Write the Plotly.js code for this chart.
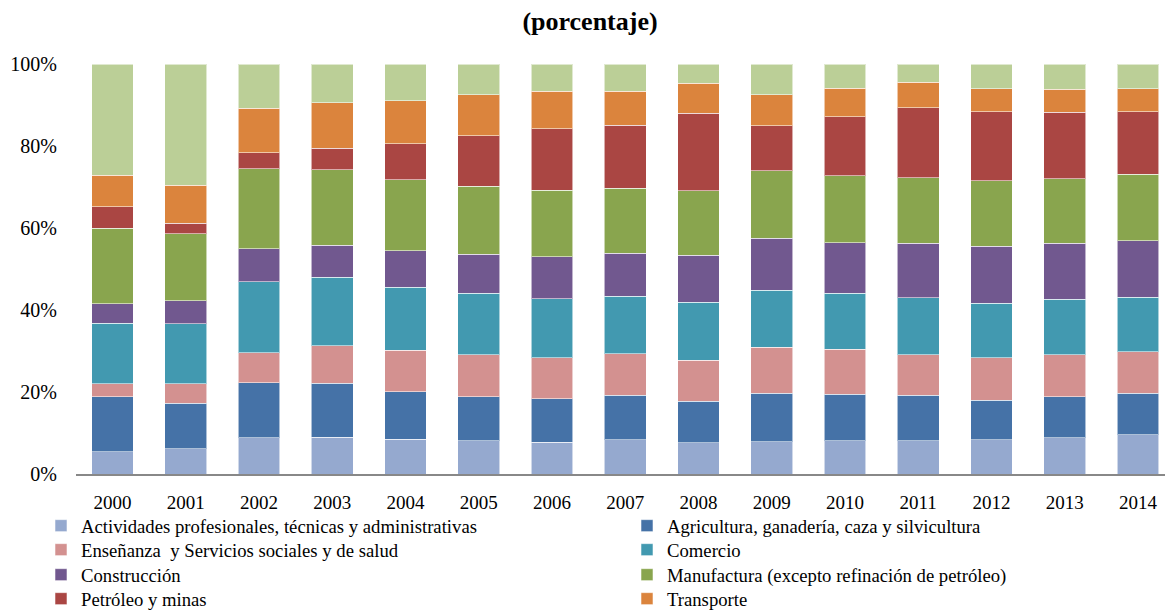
<!DOCTYPE html>
<html>
<head>
<meta charset="utf-8">
<script src="https://cdn.plot.ly/plotly-3.0.1.min.js"></script>
<style>html,body{margin:0;padding:0;background:#fff;}#chart{width:1165px;height:611px;}</style>
</head>
<body>
<div id="chart"></div>
<script>
var years = ['2000','2001','2002','2003','2004','2005','2006','2007','2008','2009','2010','2011','2012','2013','2014'];
var actividades = [5.4, 6.1, 8.9, 9.0, 8.5, 8.1, 7.8, 8.4, 7.6, 7.9, 8.1, 8.1, 8.4, 8.9, 9.6];
var agricultura = [13.5, 11.1, 13.4, 13.1, 11.6, 10.8, 10.6, 10.8, 10.1, 11.8, 11.3, 11.1, 9.6, 10.0, 10.1];
var ensenanza = [3.1, 4.8, 7.3, 9.2, 10.0, 10.2, 10.0, 10.2, 10.0, 11.2, 11.0, 9.9, 10.3, 10.2, 10.2];
var comercio = [14.8, 14.6, 17.3, 16.7, 15.4, 15.0, 14.4, 14.1, 14.2, 14.0, 13.7, 13.8, 13.4, 13.5, 13.3];
var construccion = [4.8, 5.7, 8.1, 7.9, 8.9, 9.6, 10.2, 10.5, 11.4, 12.7, 12.3, 13.3, 13.8, 13.7, 13.8];
var manufactura = [18.4, 16.3, 19.4, 18.4, 17.3, 16.6, 16.2, 15.8, 15.8, 16.4, 16.4, 16.0, 16.0, 15.7, 16.2];
var petroleo = [5.3, 2.6, 3.9, 5.2, 8.8, 12.3, 15.0, 15.4, 18.9, 11.0, 14.3, 17.1, 16.8, 16.2, 15.3];
var transporte = [7.6, 9.2, 10.9, 11.1, 10.5, 10.0, 9.2, 8.4, 7.3, 7.6, 7.0, 6.1, 5.7, 5.6, 5.6];
var otros = [27.2, 29.6, 10.8, 9.5, 8.9, 7.5, 6.6, 6.6, 4.7, 7.5, 5.9, 4.5, 6.0, 6.2, 6.0];
var yTicks = [0, 20, 40, 60, 80, 100];

var FONT = '"Liberation Serif", "Times New Roman", serif';
var edge = {color: 'rgba(255,255,255,0.55)', width: 1};

function bar(name, vals, color, legend, show) {
  return {type: 'bar', name: name, x: years, y: vals, legend: legend, showlegend: show,
    marker: {color: color, line: edge}, hoverinfo: 'name+y'};
}

var data = [
  bar('Actividades profesionales, técnicas y administrativas', actividades, '#95A9CF', 'legend', true),
  bar('Agricultura, ganadería, caza y silvicultura', agricultura, '#4572A7', 'legend2', true),
  bar('Enseñanza  y Servicios sociales y de salud', ensenanza, '#D39190', 'legend3', true),
  bar('Comercio', comercio, '#4299B0', 'legend4', true),
  bar('Construcción', construccion, '#71588F', 'legend5', true),
  bar('Manufactura (excepto refinación de petróleo)', manufactura, '#89A54E', 'legend6', true),
  bar('Petróleo y minas', petroleo, '#AA4643', 'legend7', true),
  bar('Transporte', transporte, '#DB843D', 'legend8', true),
  bar('Otros', otros, '#BBCF97', 'legend', false)
];

function leg(xpx, rowCenter) {
  return {
    orientation: 'v', traceorder: 'normal', xref: 'container', yref: 'container',
    xanchor: 'left', yanchor: 'top', x: xpx / 1165, y: 1 - (rowCenter - 20) / 611,
    font: {family: FONT, size: 18.7, color: '#000'}, bgcolor: 'rgba(0,0,0,0)', borderwidth: 0
  };
}

var layout = {
  width: 1165, height: 611,
  margin: {l: 76, r: 0, t: 64, b: 136.5, autoexpand: false},
  paper_bgcolor: '#fff', plot_bgcolor: '#fff',
  font: {family: FONT, color: '#000'},
  title: {text: '<b>(porcentaje)</b>', font: {family: FONT, size: 26, color: '#000'},
    xref: 'container', x: 590/1165, xanchor: 'center', yref: 'container', y: 1 - 21/611, yanchor: 'middle'},
  barmode: 'stack', barnorm: 'percent', bargap: 0.43,
  xaxis: {type: 'category', range: [-0.5, 14.37], showgrid: false, zeroline: false,
    showline: true, linecolor: '#888888', linewidth: 2, tickangle: 0,
    ticks: '', ticklabelstandoff: 10, tickfont: {family: FONT, size: 19, color: '#000'}},
  yaxis: {range: [0, 100], tickvals: yTicks, ticktext: yTicks.map(function(v){return v + '%';}),
    showgrid: false, zeroline: false, showline: false, ticks: '', ticklabelstandoff: 18,
    tickfont: {family: FONT, size: 20, color: '#000'}},
  legend: leg(41, 527), legend2: leg(627, 527),
  legend3: leg(41, 551), legend4: leg(627, 551),
  legend5: leg(41, 576), legend6: leg(627, 576),
  legend7: leg(41, 600), legend8: leg(627, 600),
  showlegend: true
};

Plotly.newPlot('chart', data, layout, {displayModeBar: false, staticPlot: true});
</script>
</body>
</html>
